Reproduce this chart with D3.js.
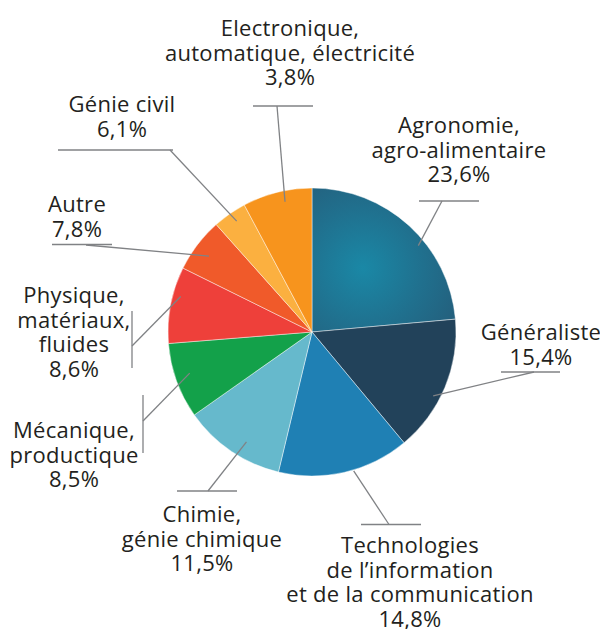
<!DOCTYPE html>
<html>
<head>
<meta charset="utf-8">
<script src="https://cdn.jsdelivr.net/npm/d3@7/dist/d3.min.js"></script>
<style>
  html, body { margin: 0; padding: 0; background: #fff; }
  svg { display: block; }
  .lbl { font-family: "Open Sans", sans-serif; font-weight: 370; font-size: 22px; letter-spacing: 0.3px; fill: #231f20; }
  .leader { fill: none; stroke: #808285; stroke-width: 1.3; }
</style>
</head>
<body>
<svg id="chart"></svg>
<script>
  const width = 600;
  const height = 629;

  // slices, clockwise from 12 o'clock
  const categories = ["Agronomie", "Généraliste", "Technologies", "Chimie", "Mécanique",
                      "Physique", "Génie civil", "Electronique", "Autre"];
  const values = [23.6, 15.4, 14.8, 11.5, 8.5, 8.6, 6.1, 3.8, 7.8];
  const colors = ["url(#agroGrad)", "#22425a", "#1f80b4", "#66b9cc", "#13a14a",
                  "#ee403a", "#f05a2a", "#fbb040", "#f7941d"];

  // label texts (one entry per label, lines split by "|")
  const labelTexts = [
    "Electronique,|automatique, électricité|3,8%",
    "Génie civil|6,1%",
    "Agronomie,|agro-alimentaire|23,6%",
    "Autre|7,8%",
    "Généraliste|15,4%",
    "Physique,|matériaux,|fluides|8,6%",
    "Mécanique,|productique|8,5%",
    "Chimie,|génie chimique|11,5%",
    "Technologies|de l’information|et de la communication|14,8%"
  ];

  // layout of the labels: text centre, first baseline, tick bar and leader target (angle deg, radius)
  const labelLayout = [
    { x: 290, y: 36,  bar: [[253, 106], [313, 106]], knee: [277, 106], ang: 348.3, r: 133 },
    { x: 122, y: 112, bar: [[58, 150], [173, 150]], knee: [170, 150], ang: 325.8, r: 134 },
    { x: 459, y: 133, bar: [[419, 201], [479, 201]], knee: [442, 201], ang: 50.9, r: 137 },
    { x: 77,  y: 212, bar: [[52, 244.5], [112, 244.5]], knee: [86, 245], ang: 306.4, r: 128 },
    { x: 541, y: 340, bar: [[501, 372], [560, 372]], knee: [534, 372], ang: 117.8, r: 137 },
    { x: 74,  y: 303, bar: [[132, 311], [132, 368]], knee: [132, 346], ang: 285.1, r: 136 },
    { x: 74,  y: 438, bar: [[143, 395], [143, 453]], knee: [143, 421], ang: 251.4, r: 129 },
    { x: 202, y: 522, bar: [[177, 491], [237, 491]], knee: [208, 491], ang: 210.8, r: 128 },
    { x: 410, y: 553, bar: [[361, 524.5], [421, 524.5]], knee: [389, 524.5], ang: 163.3, r: 145 }
  ];

  const cx = 312, cy = 332, radius = 144;
  const lineHeight = 24.6;

  const svg = d3.select("#chart")
    .attr("width", width)
    .attr("height", height);

  // radial gradient of the big slice (coords are local to the pie group)
  const grad = svg.append("defs")
    .append("radialGradient")
      .attr("id", "agroGrad")
      .attr("gradientUnits", "userSpaceOnUse")
      .attr("cx", 51).attr("cy", -64).attr("r", 120);
  grad.append("stop").attr("offset", "0%").attr("stop-color", "#1a88a6");
  grad.append("stop").attr("offset", "50%").attr("stop-color", "#20708e");
  grad.append("stop").attr("offset", "100%").attr("stop-color", "#255a77");

  const pie = d3.pie().sort(null).value(d => d.value);
  const arc = d3.arc().innerRadius(0).outerRadius(radius);

  const data = categories.map((c, i) => ({ name: c, value: values[i], color: colors[i] }));

  const g = svg.append("g").attr("transform", `translate(${cx},${cy})`);

  g.selectAll("path")
    .data(pie(data))
    .enter()
    .append("path")
      .attr("d", arc)
      .style("fill", d => d.data.color)
      .style("stroke", "rgba(255,255,255,0.55)")
      .style("stroke-width", 0.8);

  // leader lines
  const line = d3.line();
  svg.selectAll(".bar")
    .data(labelLayout)
    .enter()
    .append("path")
      .attr("class", "leader")
      .attr("d", d => line(d.bar));

  svg.selectAll(".lead")
    .data(labelLayout)
    .enter()
    .append("path")
      .attr("class", "leader")
      .attr("d", d => {
        const p = d3.pointRadial(d.ang * Math.PI / 180, d.r);
        return line([d.knee, [cx + p[0], cy + p[1]]]);
      });

  // labels
  const labels = svg.selectAll(".lbl")
    .data(labelLayout)
    .enter()
    .append("text")
      .attr("class", "lbl")
      .attr("text-anchor", "middle");

  labels.each(function(d, i) {
    const t = d3.select(this);
    labelTexts[i].split("|").forEach((s, j) => {
      t.append("tspan")
        .attr("x", d.x)
        .attr("y", d.y + j * lineHeight)
        .text(s);
    });
  });
</script>
</body>
</html>
